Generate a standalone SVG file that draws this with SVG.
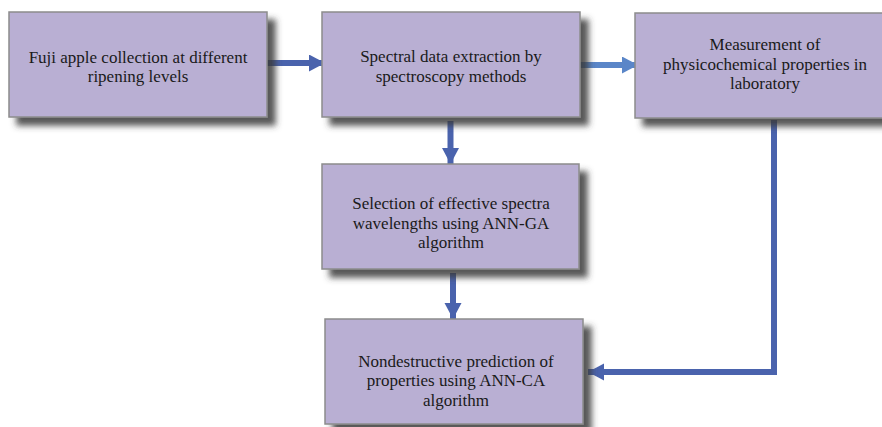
<svg xmlns="http://www.w3.org/2000/svg" width="882" height="427" viewBox="0 0 882 427">
<defs>
<filter id="sh" x="-10%" y="-20%" width="130%" height="150%">
<feDropShadow dx="8" dy="8" stdDeviation="3" flood-color="#3a3a3a" flood-opacity="0.85"/>
</filter>
<marker id="ah" markerUnits="userSpaceOnUse" markerWidth="17" markerHeight="18" refX="16" refY="8.5" orient="auto" viewBox="0 0 17 18">
<path d="M0,0 L16,8.5 L0,17 Z" fill="#4a63ad"/>
</marker>
<marker id="ah2" markerUnits="userSpaceOnUse" markerWidth="17" markerHeight="18" refX="16" refY="8.5" orient="auto" viewBox="0 0 17 18">
<path d="M0,0 L16,8.5 L0,17 Z" fill="#5a86c8"/>
</marker>
</defs>
<style>
.box{fill:#b9afd3;stroke:#8c8c8c;stroke-width:1.5;filter:url(#sh)}
.t{font-family:"Liberation Serif","Times New Roman",serif;font-size:17px;fill:#1a1a1a;text-anchor:middle}
.c{fill:none;stroke:#4a63ad;stroke-width:6}
</style>
<rect width="882" height="427" fill="#ffffff"/>
<g id="connectors">
<line class="c" x1="266" y1="63" x2="325" y2="63" marker-end="url(#ah)"/>
<line class="c" x1="580" y1="65" x2="638" y2="65" style="stroke:#5a86c8" marker-end="url(#ah2)"/>
<line class="c" x1="450.5" y1="121" x2="450.5" y2="164" marker-end="url(#ah)"/>
<line class="c" x1="453" y1="273" x2="453" y2="319" marker-end="url(#ah)"/>
<path class="c" d="M774 120 V372 H588" marker-end="url(#ah)"/>
</g>
<g id="n1">
<rect class="box" x="9" y="12" width="258" height="105"/>
<text class="t" x="138" y="62.5">Fuji apple collection at different</text>
<text class="t" x="138" y="81.5">ripening levels</text>
</g>
<g id="n2">
<rect class="box" x="322" y="12" width="258" height="105"/>
<text class="t" x="451" y="62">Spectral data extraction by</text>
<text class="t" x="451" y="81.5">spectroscopy methods</text>
</g>
<g id="n3">
<rect class="box" x="635" y="13" width="252" height="105"/>
<text class="t" x="765" y="50">Measurement of</text>
<text class="t" x="765" y="69.5">physicochemical properties in</text>
<text class="t" x="765" y="89">laboratory</text>
</g>
<g id="n4">
<rect class="box" x="322" y="164" width="257" height="105"/>
<text class="t" x="451" y="209">Selection of effective spectra</text>
<text class="t" x="451" y="228.5">wavelengths using ANN-GA</text>
<text class="t" x="451" y="248">algorithm</text>
</g>
<g id="n5">
<rect class="box" x="325" y="319" width="258" height="105"/>
<text class="t" x="456" y="366.5">Nondestructive prediction of</text>
<text class="t" x="456" y="386">properties using ANN-CA</text>
<text class="t" x="456" y="405.5">algorithm</text>
</g>
</svg>
